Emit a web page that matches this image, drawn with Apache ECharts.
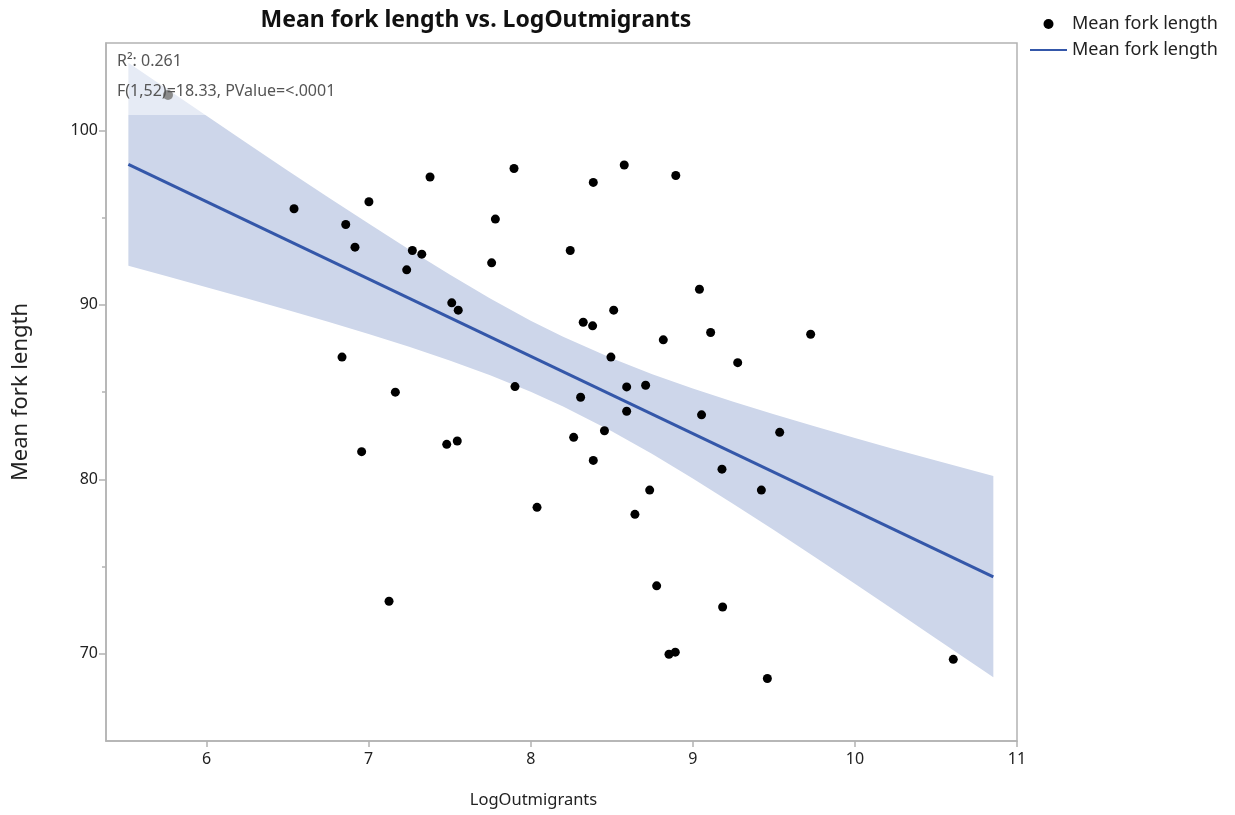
<!DOCTYPE html>
<html>
<head>
<meta charset="utf-8">
<script src="https://cdn.jsdelivr.net/npm/echarts@6/dist/echarts.min.js"></script>
<style>html,body{margin:0;padding:0;background:#fff}#c{width:1235px;height:815px}</style>
</head>
<body>
<div id="c"></div>
<script>
// ---- data ----
const logOutmigrants = [6.540,6.859,6.916,7.002,6.836,6.957,7.165,7.126,7.235,7.270,7.328,7.379,7.513,7.553,7.482,7.547,7.759,7.782,7.897,7.903,8.039,8.244,8.265,8.308,8.324,8.382,8.386,8.386,8.455,8.495,8.512,8.577,8.592,8.592,8.643,8.709,8.734,8.777,8.818,8.853,8.892,8.895,9.041,9.054,9.110,9.180,9.184,9.277,9.423,9.460,9.536,9.727,10.607];
const meanForkLength = [95.50,94.60,93.30,95.90,87.00,81.58,84.99,73.01,92.00,93.11,92.90,97.32,90.11,89.69,82.00,82.19,92.40,94.91,97.81,85.31,78.39,93.11,82.40,84.70,89.00,88.79,97.01,81.08,82.78,87.00,89.69,98.01,85.29,83.90,77.99,85.39,79.38,73.89,87.99,69.97,70.09,97.41,90.89,83.69,88.41,80.58,72.68,86.68,79.38,68.58,82.69,88.31,69.68];

const fitX = [5.518, 10.854];
const fitY = [98.05, 74.41];

const bandX     = [5.518,5.75,6.0,6.25,6.5,6.75,7.0,7.25,7.5,7.75,8.0,8.2,8.5,8.75,9.0,9.25,9.5,9.75,10.0,10.25,10.5,10.854];
const bandUpper = [103.87,102.41,100.83,99.26,97.70,96.16,94.65,93.16,91.73,90.36,89.09,88.17,86.93,86.02,85.20,84.44,83.73,83.04,82.37,81.71,81.07,80.18];
const bandLower = [92.23,91.65,91.01,90.36,89.70,89.02,88.33,87.60,86.81,85.96,85.01,84.17,82.75,81.44,80.04,78.58,77.09,75.56,74.01,72.45,70.88,68.65];

const xTicks = [6,7,8,9,10,11];
const yMajorTicks = [70,80,90,100];
const yMinorTicks = [75,85,95];

const statLines = ['R\u00b2: 0.261', 'F(1,52)=18.33, PValue=<.0001'];

// ---- chart ----
const FONT = '"Noto Sans", "Open Sans", sans-serif';
const AX = '#b3b3b3';
const chart = echarts.init(document.getElementById('c'), null, {renderer: 'canvas'});

const scatterData = logOutmigrants.map((x, i) => [x, meanForkLength[i]]);
const fitData = fitX.map((x, i) => [x, fitY[i]]);

const option = {
  animation: false,
  backgroundColor: '#fff',
  textStyle: {fontFamily: FONT},
  title: {
    text: 'Mean fork length vs. LogOutmigrants',
    left: 471, top: 4, textAlign: 'center',
    textStyle: {fontFamily: FONT, fontSize: 23, fontWeight: 'bold', color: '#111'}
  },
  legend: {
    orient: 'vertical', left: 1024, top: 10,
    itemWidth: 37, itemHeight: 10, itemGap: 8,
    textStyle: {fontFamily: FONT, fontSize: 18, color: '#222'},
    formatter: n => n.trim(),
    data: [
      {name: 'Mean fork length', icon: 'circle'},
      {name: 'Mean fork length ', itemStyle: {opacity: 0}}
    ]
  },
  grid: {
    left: 106, right: 218, top: 43, bottom: 74,
    show: true, borderColor: AX, borderWidth: 1.5, backgroundColor: 'transparent'
  },
  xAxis: {
    type: 'value', min: 5.38, max: 11,
    name: 'LogOutmigrants', nameLocation: 'middle', nameGap: 51,
    nameTextStyle: {fontFamily: FONT, fontSize: 16.5, color: '#222', padding: [0, 56, 0, 0]},
    axisLine: {show: true, onZero: false, lineStyle: {color: AX, width: 1.5}},
    axisTick: {show: true, length: 6, customValues: xTicks, lineStyle: {color: AX, width: 1.5}},
    axisLabel: {customValues: xTicks, fontFamily: FONT, fontSize: 16, color: '#222', margin: 10},
    splitLine: {show: false}
  },
  yAxis: [{
    type: 'value', min: 65, max: 105,
    name: 'Mean fork length', nameLocation: 'middle', nameGap: 74,
    nameTextStyle: {fontFamily: FONT, fontSize: 22, color: '#222'},
    axisLine: {show: true, onZero: false, lineStyle: {color: AX, width: 1.5}},
    axisTick: {show: true, length: 7, customValues: yMajorTicks, lineStyle: {color: AX, width: 1.5}},
    axisLabel: {customValues: yMajorTicks, fontFamily: FONT, fontSize: 16, color: '#222', margin: 8},
    splitLine: {show: false}
  }, {
    type: 'value', min: 65, max: 105, position: 'left',
    axisLine: {show: false},
    axisTick: {show: true, length: 4, customValues: yMinorTicks, lineStyle: {color: AX, width: 1.5}},
    axisLabel: {show: false},
    splitLine: {show: false}
  }],
  series: [
    {
      type: 'custom', name: 'band', z: 1, silent: true,
      data: [[bandX[0], bandUpper[0]]],
      renderItem: function (params, api) {
        const pts = [];
        for (let i = 0; i < bandX.length; i++) pts.push(api.coord([bandX[i], bandUpper[i]]));
        for (let i = bandX.length - 1; i >= 0; i--) pts.push(api.coord([bandX[i], bandLower[i]]));
        return {type: 'polygon', shape: {points: pts}, style: {fill: '#cdd6ea', stroke: null}};
      }
    },
    {
      type: 'line', name: 'Mean fork length ', z: 3,
      data: fitData, symbol: 'none', showSymbol: false,
      lineStyle: {color: '#3457a9', width: 3},
      itemStyle: {color: '#3457a9'}
    },
    {
      type: 'scatter', name: 'Mean fork length', z: 4,
      data: scatterData, symbol: 'circle', symbolSize: 9,
      itemStyle: {color: '#000', opacity: 1}
    }
  ],
  graphic: [
    {type: 'rect', z: 100, silent: true, shape: {x: 108, y: 48, width: 250, height: 67},
     style: {fill: 'rgba(255,255,255,0.5)'}},
    {type: 'circle', z: 101, silent: true, shape: {cx: 168, cy: 95, r: 5}, style: {fill: '#8c8c8c'}},
    {type: 'text', z: 102, left: 117, top: 53,
     style: {text: statLines[0], font: '16px "Noto Sans", sans-serif', fill: '#555'}},
    {type: 'text', z: 102, left: 117, top: 83,
     style: {text: statLines[1], font: '16px "Noto Sans", sans-serif', fill: '#555'}}
  ]
};
chart.setOption(option);
</script>
</body>
</html>
